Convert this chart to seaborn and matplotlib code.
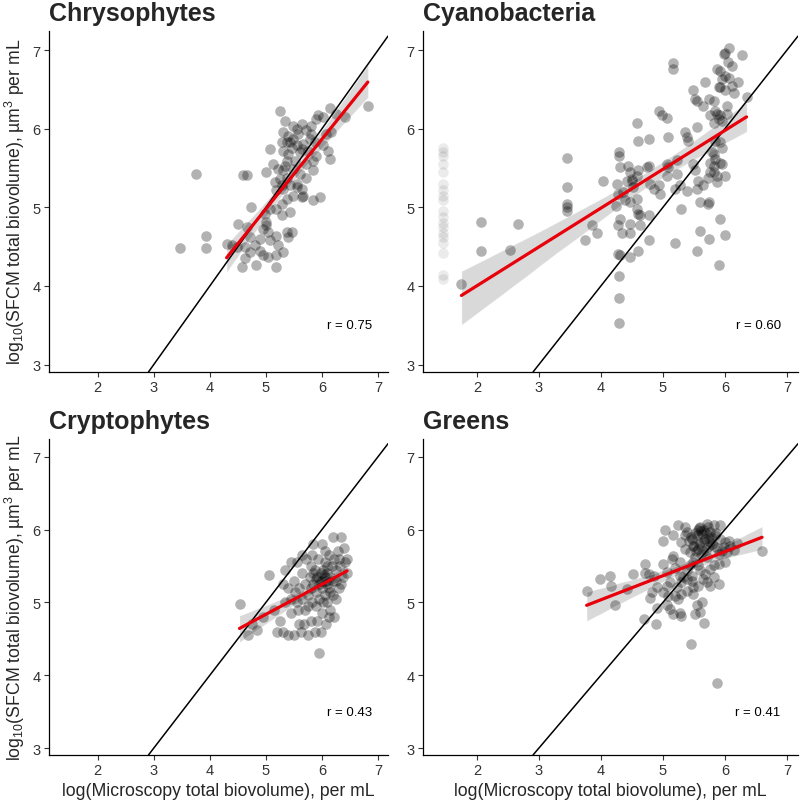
import numpy as np
import pandas as pd
import seaborn as sns
import matplotlib
matplotlib.use("Agg")
import matplotlib.pyplot as plt

# ---------------- data ----------------
panel_names = ["Chrysophytes", "Cyanobacteria", "Cryptophytes", "Greens"]
r_labels = ["0.75", "0.60", "0.43", "0.41"]
# the Chrysophytes fit in the reference only covers samples from x = 4.25 up
fit_min_x = [4.25, None, None, None]

chryso_x = [5.25, 5.34, 5.49, 5.64, 5.81, 5.93, 6.02, 6.14, 6.26, 6.41, 6.82, 5.90,
            5.31, 5.40, 5.49, 5.58, 5.72, 5.81, 5.78, 5.37, 5.46, 5.55, 5.67, 5.87,
            5.31, 5.40, 5.61, 5.76, 5.07, 6.08, 6.17, 6.11, 6.14, 5.90, 5.84, 5.72,
            5.52, 5.37, 5.13, 5.22, 5.01, 5.31, 5.49, 5.84, 5.72, 5.61, 5.25, 5.37,
            5.55, 5.16, 5.43, 5.31, 5.64, 5.19, 5.67, 5.64, 5.84, 5.96, 5.49, 5.37,
            5.28, 4.74, 4.98, 5.07, 5.19, 5.28, 5.43, 5.01, 4.51, 4.66, 4.95, 5.04,
            5.01, 5.37, 5.46, 5.40, 5.19, 5.07, 4.89, 4.71, 4.30, 4.39, 3.47, 3.94,
            3.94, 4.63, 4.80, 4.89, 4.95, 5.04, 5.22, 5.31, 5.19, 4.63, 4.57, 4.83,
            5.19, 4.48, 4.71, 5.55, 5.28, 5.34, 5.55, 5.43, 5.64, 5.28, 6.02, 4.60,
            4.66, 3.76]
chryso_y = [6.23, 6.10, 6.04, 6.06, 6.04, 6.17, 6.15, 6.27, 6.19, 6.15, 6.29, 6.12,
            5.96, 5.91, 5.87, 5.93, 5.98, 5.93, 5.87, 5.83, 5.76, 5.79, 5.81, 5.83,
            5.72, 5.68, 5.70, 5.72, 5.74, 5.93, 5.96, 5.72, 5.62, 5.66, 5.59, 5.55,
            5.59, 5.59, 5.55, 5.49, 5.45, 5.47, 5.49, 5.47, 5.38, 5.43, 5.36, 5.38,
            5.30, 5.32, 5.28, 5.24, 5.24, 5.22, 5.15, 5.13, 5.09, 5.13, 5.15, 5.11,
            5.04, 5.00, 4.92, 4.98, 4.98, 4.90, 4.94, 4.81, 4.79, 4.75, 4.73, 4.69,
            4.77, 4.69, 4.69, 4.62, 4.64, 4.58, 4.60, 4.62, 4.54, 4.52, 4.48, 4.64,
            4.48, 4.50, 4.52, 4.45, 4.39, 4.37, 4.52, 4.43, 4.39, 4.35, 4.24, 4.27,
            4.24, 4.50, 4.43, 5.26, 5.28, 5.53, 6.00, 5.83, 5.74, 5.83, 5.79, 5.41,
            5.41, 5.43]

cyano_x = [1.75, 2.06, 2.06, 2.53, 2.67, 3.45, 3.45, 3.45, 3.45, 3.74, 3.93, 3.85,
           4.04, 4.26, 4.28, 4.31, 4.28, 4.34, 4.47, 4.47, 4.58, 4.60, 4.63, 4.60,
           4.77, 4.77, 4.28, 4.31, 4.47, 4.30, 4.30, 4.30, 4.50, 4.52, 4.58,
           3.45, 4.30, 4.30, 4.31, 4.44, 4.47, 4.58, 4.60, 4.50, 4.42, 4.36, 4.47,
           4.63, 4.74, 4.77, 4.60, 4.77, 4.59, 4.93, 4.98, 5.06, 5.09, 4.93, 4.79,
           4.85, 4.95, 5.06, 5.09, 5.06, 5.22, 5.22, 5.28, 5.20, 5.39, 5.30, 5.36,
           5.39, 5.41, 5.55, 5.49, 5.52, 5.57, 5.65, 5.55, 5.73, 5.75, 5.60, 5.17,
           5.17, 5.48, 5.52, 5.68, 5.55, 5.65, 5.74, 5.82, 5.76, 5.84, 5.87, 5.92,
           5.90, 5.95, 5.82, 6.03, 5.92, 5.95, 6.00, 6.06, 6.00, 5.90, 6.11, 5.92,
           6.11, 5.98, 6.00, 6.06, 6.27, 5.87, 6.35, 5.84, 5.92, 5.95, 5.79, 5.82,
           5.84, 5.76, 5.82, 5.92, 5.95, 5.82, 5.87, 5.76, 6.00, 5.87, 5.92, 5.73,
           6.03, 4.25, 4.39, 5.55, 5.75, 5.90, 6.00, 5.60, 5.20, 6.15, 6.22, 6.05]
cyano_y = [4.02, 4.82, 4.44, 4.46, 4.79, 5.04, 5.00, 4.96, 5.26, 4.59, 4.67, 4.77,
           5.34, 5.30, 5.17, 4.85, 4.77, 4.68, 4.79, 4.68, 4.98, 4.92, 4.77, 4.45,
           4.90, 4.58, 4.41, 4.39, 4.37, 4.13, 3.85, 3.53, 5.34, 5.26, 5.11,
           5.63, 5.70, 5.66, 5.51, 5.53, 5.45, 5.40, 5.47, 5.36, 5.34, 5.19, 5.07,
           4.90, 5.51, 5.53, 5.85, 5.87, 6.07, 6.23, 6.17, 6.14, 5.89, 5.28, 5.30,
           5.24, 5.17, 5.55, 5.51, 5.40, 5.60, 5.43, 5.28, 5.24, 5.21, 4.98, 5.96,
           5.89, 5.85, 6.02, 5.55, 5.47, 5.34, 5.28, 5.24, 5.38, 5.07, 5.07, 6.84,
           6.76, 6.50, 6.38, 6.59, 6.36, 6.29, 6.38, 6.36, 6.17, 6.23, 6.19, 6.17,
           6.12, 6.10, 6.08, 6.29, 6.53, 6.63, 6.67, 6.65, 6.50, 6.53, 6.55, 6.74,
           6.80, 6.95, 6.97, 7.03, 6.94, 6.76, 6.40, 5.85, 5.83, 5.76, 5.70, 5.68,
           5.62, 5.57, 5.53, 5.57, 5.55, 5.45, 5.40, 5.45, 5.40, 5.32, 4.85, 5.04,
           6.19, 5.02, 5.09, 4.45, 4.60, 4.27, 4.65, 4.70, 4.55, 6.45, 6.60, 6.85]
# samples without a microscopy value, drawn faintly and left out of the fit
cyano_faint_x = [1.45] * 19
cyano_faint_y = [5.75, 5.70, 5.65, 5.55, 5.45, 5.30, 5.22, 5.15, 5.10, 4.95,
                 4.88, 4.80, 4.75, 4.68, 4.62, 4.55, 4.42, 4.14, 4.09]

crypto_x = [4.53, 4.68, 4.75, 4.85, 4.95, 5.05, 5.15, 5.20, 5.25, 5.30, 5.35, 5.40,
            5.45, 5.45, 5.50, 5.50, 5.55, 5.55, 5.60, 5.60, 5.62, 5.65, 5.65, 5.70,
            5.70, 5.72, 5.75, 5.75, 5.78, 5.80, 5.80, 5.82, 5.85, 5.85, 5.88, 5.88,
            5.90, 5.90, 5.92, 5.93, 5.95, 5.95, 5.97, 6.00, 6.00, 6.00, 6.02, 6.03,
            6.05, 6.05, 6.07, 6.08, 6.10, 6.10, 6.12, 6.13, 6.15, 6.15, 6.18, 6.20,
            6.20, 6.22, 6.25, 6.25, 6.30, 6.30, 6.35, 6.35, 6.40, 6.45, 6.45, 5.98,
            6.00, 5.95, 6.05, 6.10, 5.90, 5.85, 6.15, 5.80, 5.75, 5.68, 5.58, 5.52,
            5.40, 5.30, 5.35, 6.20, 6.25, 6.28, 6.02, 5.92, 5.98, 6.12, 6.05, 5.83,
            5.65, 5.45, 6.32, 6.38, 6.42, 6.10, 6.22]
crypto_y = [4.98, 4.55, 4.70, 4.62, 4.80, 5.38, 4.90, 4.60, 4.75, 5.25, 5.45, 4.55,
            5.05, 4.85, 4.55, 5.30, 5.55, 5.00, 4.70, 5.20, 4.60, 5.40, 5.05, 4.90,
            5.25, 5.60, 4.55, 5.10, 5.35, 4.75, 5.50, 5.00, 5.25, 5.80, 4.60, 5.45,
            5.15, 4.95, 5.35, 5.60, 4.30, 5.05, 5.30, 5.80, 5.20, 4.85, 5.45, 5.38,
            5.10, 5.55, 4.70, 5.30, 5.00, 5.40, 5.65, 5.20, 4.90, 5.35, 5.50, 5.90,
            5.10, 4.80, 5.30, 5.45, 5.60, 5.20, 5.90, 5.25, 5.75, 5.60, 5.40, 5.40,
            5.30, 5.25, 5.35, 5.25, 5.32, 5.40, 5.15, 5.20, 4.95, 4.70, 4.90, 5.15,
            5.20, 4.60, 5.00, 5.30, 5.05, 5.70, 5.00, 4.75, 4.60, 4.80, 5.70, 5.65,
            5.65, 5.55, 5.50, 5.35, 5.55, 5.50, 5.60]

greens_x = [3.77, 3.99, 4.15, 4.17, 4.23, 4.52, 4.42, 4.71, 4.71, 4.77, 4.85, 4.90,
            4.82, 4.79, 4.69, 4.89, 4.90, 5.01, 5.06, 5.03, 5.01, 5.17, 5.25, 5.36,
            5.14, 5.17, 5.06, 5.12, 5.01, 5.09, 5.06, 5.12, 5.17, 5.28, 5.30, 5.25,
            5.20, 5.30, 5.39, 5.22, 5.30, 5.33, 5.47, 5.49, 5.57, 5.49, 5.55, 5.63,
            5.52, 5.67, 5.45, 5.60, 5.39, 5.44, 5.49, 5.60, 5.68, 5.76, 5.82, 5.90,
            5.82, 5.90, 6.00, 6.03, 5.98, 5.90, 5.39, 5.47, 5.55, 5.60, 5.68, 5.71,
            5.60, 5.82, 5.92, 5.76, 5.84, 5.49, 5.57, 5.65, 5.73, 5.82, 5.44, 5.36,
            5.30, 5.52, 5.71, 5.92, 6.00, 6.06, 5.57, 5.63, 5.76, 6.60, 5.28, 5.39,
            5.71, 5.76, 5.47, 5.65, 5.57, 5.28, 5.20, 5.87,
            5.45, 5.52, 5.58, 5.62, 5.66, 5.70, 5.74, 5.78, 5.86, 5.50, 5.54, 5.62,
            5.69, 5.80, 5.88, 5.95, 6.08, 6.15, 6.20, 5.42, 5.58, 5.66, 5.73, 5.35]
greens_y = [5.16, 5.32, 5.37, 5.22, 4.97, 5.39, 5.19, 5.53, 5.41, 5.39, 5.37, 5.21,
            5.14, 5.06, 4.77, 4.71, 4.93, 5.53, 5.42, 6.00, 5.84, 5.92, 6.06, 6.03,
            5.60, 5.64, 5.23, 5.28, 5.14, 5.09, 4.96, 4.91, 4.84, 4.86, 4.82, 5.05,
            5.09, 5.12, 5.16, 5.21, 5.28, 5.35, 5.30, 5.21, 5.23, 5.12, 4.96, 5.00,
            4.84, 4.72, 4.43, 4.87, 5.44, 5.51, 5.55, 5.44, 5.39, 5.46, 5.35, 5.26,
            5.51, 5.53, 5.55, 5.69, 5.76, 5.67, 5.97, 5.87, 5.92, 5.83, 5.87, 6.08,
            6.03, 6.06, 6.06, 5.97, 5.92, 5.78, 5.74, 5.71, 5.76, 5.78, 5.69, 5.74,
            5.83, 5.62, 5.62, 5.87, 5.83, 5.85, 5.99, 5.94, 5.83, 5.71, 5.37, 5.32,
            5.28, 5.23, 5.37, 5.32, 5.51, 5.55, 5.48, 3.89,
            5.90, 5.95, 5.80, 5.98, 5.85, 5.95, 5.88, 5.90, 5.96, 5.78, 5.70, 5.66,
            5.72, 5.80, 5.75, 5.70, 5.78, 5.72, 5.82, 5.85, 6.02, 6.00, 6.04, 5.92]

panels = [
    (chryso_x, chryso_y),
    (cyano_x, cyano_y),
    (crypto_x, crypto_y),
    (greens_x, greens_y),
]

# ---------------- styling ----------------
sns.set_theme(style="ticks")
plt.rcParams["font.family"] = ["Liberation Sans", "DejaVu Sans"]
plt.rcParams["mathtext.fontset"] = "custom"
plt.rcParams["mathtext.rm"] = "Liberation Sans"
plt.rcParams["mathtext.it"] = "Liberation Sans:italic"
plt.rcParams["mathtext.bf"] = "Liberation Sans:bold"

W, H = 800, 803
fig = plt.figure(figsize=(W / 100, H / 100), dpi=100)


def frac(l, t, r, b):
    return [l / W, 1 - b / H, (r - l) / W, (b - t) / H]


boxes = [frac(49, 32, 388, 373), frac(423, 32, 798, 373),
         frac(49, 440, 388, 756), frac(423, 440, 798, 756)]

for name, (xs, ys), box, rl, fmin in zip(panel_names, panels, boxes, r_labels, fit_min_x):
    ax = fig.add_axes(box)
    df = pd.DataFrame({"x": xs, "y": ys})
    fit_df = df if fmin is None else df[df["x"] >= fmin]
    if name == "Cyanobacteria":
        sns.scatterplot(x=cyano_faint_x, y=cyano_faint_y, ax=ax, color="black",
                        alpha=0.08, s=58, linewidth=0)
    sns.scatterplot(data=df, x="x", y="y", ax=ax, color="black", alpha=0.3,
                    s=58, linewidth=0)
    # confidence band (grey)
    sns.regplot(data=fit_df, x="x", y="y", ax=ax, scatter=False, ci=95, seed=3,
                color="black", line_kws={"linewidth": 0})
    ax.axline((3, 3), (7, 7), color="black", lw=1.1, zorder=3)
    sns.regplot(data=fit_df, x="x", y="y", ax=ax, scatter=False, ci=None,
                color="#e8000b", line_kws={"linewidth": 2.3, "zorder": 4})
    ax.set_xlim(1.13, 7.18)
    ax.set_ylim(2.905, 7.245)
    ax.set_xticks([2, 3, 4, 5, 6, 7])
    ax.set_yticks([3, 4, 5, 6, 7])
    ax.set_xlabel("")
    ax.set_ylabel("")
    for s in ["top", "right"]:
        ax.spines[s].set_visible(False)
    for s in ["left", "bottom"]:
        ax.spines[s].set_color("black")
        ax.spines[s].set_linewidth(0.9)
    ax.tick_params(length=3.5, width=0.8, color="#333333", labelsize=10.5,
                   labelcolor="#333333", pad=2.5)
    ax.text(6.9, 3.5, f"r = {rl}", ha="right", va="center", fontsize=9.5,
            color="black")
    ax.set_title(name, loc="left", fontsize=18, fontweight="bold", pad=8)

ylab = r"log$_{10}$(SFCM total biovolume), µm$^{3}$ per mL"
xlab = "log(Microscopy total biovolume), per mL"
fig.text(15 / W, 1 - 202 / H, ylab, rotation=90, ha="center", va="center",
         fontsize=12.7)
fig.text(15 / W, 1 - 598 / H, ylab, rotation=90, ha="center", va="center",
         fontsize=12.7)
fig.text(218.5 / W, 1 - 792 / H, xlab, ha="center", va="center", fontsize=12.7)
fig.text(610.5 / W, 1 - 792 / H, xlab, ha="center", va="center", fontsize=12.7)

fig.savefig("out.png", dpi=100)
